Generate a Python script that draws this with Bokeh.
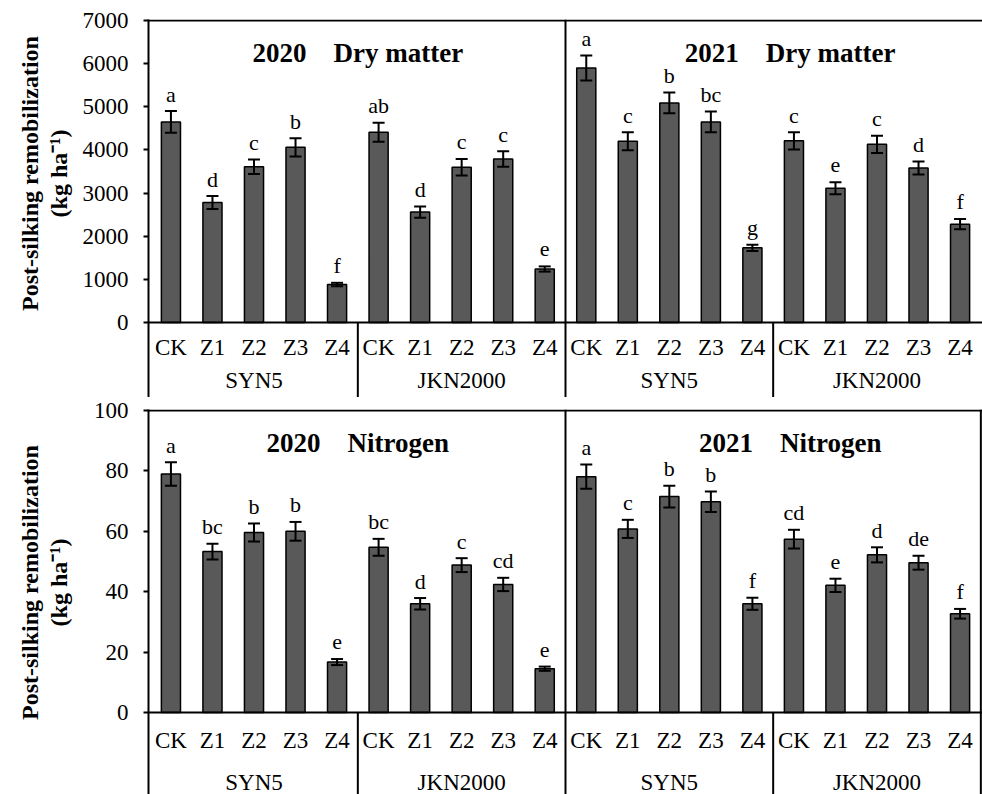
import math
from bokeh.plotting import figure
from bokeh.models import (ColumnDataSource, FactorRange, Range1d, Span, Whisker,
                          FixedTicker)
from bokeh.layouts import column, row
from bokeh.embed import file_html
from bokeh.resources import INLINE
from bokeh.core.properties import value

# ---------------- data ----------------
years = ["2020", "2021"]
cultivars = ["SYN5", "JKN2000"]
treatments = ["CK", "Z1", "Z2", "Z3", "Z4"]

# Dry matter (kg ha-1)
dm_2020_syn5 = [4650, 2780, 3610, 4060, 880]
dm_2020_syn5_err = [250, 150, 170, 210, 40]
dm_2020_syn5_sig = ["a", "d", "c", "b", "f"]
dm_2020_jkn = [4410, 2560, 3600, 3790, 1240]
dm_2020_jkn_err = [220, 130, 190, 180, 60]
dm_2020_jkn_sig = ["ab", "d", "c", "c", "e"]
dm_2021_syn5 = [5900, 4200, 5090, 4650, 1730]
dm_2021_syn5_err = [290, 210, 240, 240, 70]
dm_2021_syn5_sig = ["a", "c", "b", "bc", "g"]
dm_2021_jkn = [4210, 3110, 4130, 3580, 2280]
dm_2021_jkn_err = [200, 140, 200, 150, 120]
dm_2021_jkn_sig = ["c", "e", "c", "d", "f"]

# Nitrogen (kg ha-1)
n_2020_syn5 = [79.0, 53.3, 59.6, 60.0, 16.7]
n_2020_syn5_err = [3.9, 2.6, 3.0, 3.1, 1.0]
n_2020_syn5_sig = ["a", "bc", "b", "b", "e"]
n_2020_jkn = [54.7, 36.0, 48.8, 42.4, 14.5]
n_2020_jkn_err = [2.8, 1.9, 2.3, 2.2, 0.7]
n_2020_jkn_sig = ["bc", "d", "c", "cd", "e"]
n_2021_syn5 = [78.1, 60.8, 71.5, 69.8, 36.0]
n_2021_syn5_err = [4.0, 3.0, 3.6, 3.4, 2.0]
n_2021_syn5_sig = ["a", "c", "b", "b", "f"]
n_2021_jkn = [57.4, 42.1, 52.2, 49.6, 32.7]
n_2021_jkn_err = [3.1, 2.2, 2.5, 2.3, 1.6]
n_2021_jkn_sig = ["cd", "e", "d", "de", "f"]

dm_ticks = [0, 1000, 2000, 3000, 4000, 5000, 6000, 7000]
n_ticks = [0, 20, 40, 60, 80, 100]

GAP = "\u00a0\u00a0\u00a0\u00a0"
dm_titles = ["2020" + GAP + "Dry matter", "2021" + GAP + "Dry matter"]
n_titles = ["2020" + GAP + "Nitrogen", "2021" + GAP + "Nitrogen"]
y_label = "Post-silking remobilization\n(kg ha\u207b\u00b9)"

# ---------------- helpers ----------------
FONT = "Liberation Serif"
factors = [(y, c, t) for y in years for c in cultivars for t in treatments]
x_range = FactorRange(factors=factors, factor_padding=0, subgroup_padding=0,
                      group_padding=0, range_padding=0.04,
                      range_padding_units="absolute")

LABEL_W = 78
TOTAL_W = 982


def make_row(vals, errs, sigs, ticks, titles, height, top_border,
             y_end, y_start, title_y, ylabel_y, lab_off1, lab_off2, right_border):
    y_range = Range1d(y_start, y_end)
    p = figure(width=TOTAL_W - LABEL_W, height=height, x_range=x_range,
               y_range=y_range, x_axis_location=None,
               output_backend="svg", toolbar_location=None,
               min_border_left=148 - LABEL_W, min_border_right=0,
               min_border_top=top_border, min_border_bottom=0)
    p.outline_line_color = None
    p.grid.grid_line_color = None

    top, up, lo, sig = [], [], [], []
    for v, e, s in zip(vals, errs, sigs):
        top += v
        up += [a + b for a, b in zip(v, e)]
        lo += [a - b for a, b in zip(v, e)]
        sig += s
    src = ColumnDataSource(dict(x=factors, top=top, upper=up, lower=lo,
                                sig=sig, treat=[f[2] for f in factors]))

    p.vbar(x="x", top="top", width=0.46, source=src, fill_color="#595959",
           line_color="black", line_width=1.5)
    wk = Whisker(base="x", upper="upper", lower="lower", source=src,
                 line_color="black", line_width=2, level="annotation")
    wk.upper_head.size = 12
    wk.lower_head.size = 12
    wk.upper_head.line_width = 2
    wk.lower_head.line_width = 2
    wk.upper_head.line_color = "black"
    wk.lower_head.line_color = "black"
    p.add_layout(wk)

    p.text(x="x", y="upper", text="sig", source=src, text_align="center",
           text_baseline="alphabetic", y_offset=-17,
           text_font=value(FONT), text_font_size="22px", text_color="black")
    # treatment labels
    p.text(x="x", y=0, text="treat", source=src, text_align="center",
           text_baseline="middle", y_offset=lab_off1,
           text_font=value(FONT), text_font_size="23px", text_color="black")
    # cultivar labels
    csrc = ColumnDataSource(dict(x=[(y, c) for y in years for c in cultivars],
                                 lab=[c for y in years for c in cultivars]))
    p.text(x="x", y=0, text="lab", source=csrc, text_align="center",
           text_baseline="middle", y_offset=lab_off2,
           text_font=value(FONT), text_font_size="23px", text_color="black")
    # panel titles
    tsrc = ColumnDataSource(dict(x=years, t=titles, xo=[0, 17]))
    p.text(x="x", y=title_y, text="t", source=tsrc, x_offset="xo",
           text_align="center", text_baseline="middle",
           text_font=value(FONT), text_font_style="bold",
           text_font_size="27px", text_color="black")

    # frame lines
    n_per_year = len(cultivars) * len(treatments)
    p.add_layout(Span(location=0, dimension="width", line_color="black", line_width=2))
    p.add_layout(Span(location=ticks[-1], dimension="width", line_color="black", line_width=2))
    p.add_layout(Span(location=n_per_year, dimension="height", line_color="black", line_width=2))
    if right_border:
        p.add_layout(Span(location=len(factors), dimension="height",
                          line_color="black", line_width=2))
    sep_x = [k * len(treatments) for k in range(1, len(years) * len(cultivars))
             if k % len(cultivars) != 0]
    p.segment(x0=sep_x, x1=sep_x, y0=[0] * len(sep_x), y1=[y_start] * len(sep_x),
              line_color="black", line_width=2)

    ax = p.yaxis[0]
    ax.ticker = FixedTicker(ticks=ticks)
    ax.axis_line_color = "black"
    ax.axis_line_width = 2
    ax.major_tick_line_color = "black"
    ax.major_tick_line_width = 2
    ax.major_tick_in = 0
    ax.major_tick_out = 5
    ax.minor_tick_line_color = None
    ax.major_label_standoff = 15
    ax.major_label_text_font = FONT
    ax.major_label_text_font_size = "23px"
    ax.major_label_text_color = "black"

    # y-axis title, drawn in a narrow companion plot sharing the y range
    q = figure(width=LABEL_W, height=height, x_range=Range1d(0, LABEL_W),
               y_range=y_range, x_axis_location=None, y_axis_location=None,
               output_backend="svg", toolbar_location=None,
               min_border_left=0, min_border_right=0,
               min_border_top=top_border, min_border_bottom=0)
    q.outline_line_color = None
    q.grid.grid_line_color = None
    q.text(x=[44], y=[ylabel_y], text=[y_label], angle=math.pi / 2,
           text_align="center", text_baseline="middle",
           text_font=value(FONT), text_font_style="bold",
           text_font_size="24px", text_line_height=1.15, text_color="black")
    return row(q, p, spacing=0)


ppu1 = 302 / 7000.0
r1 = make_row([dm_2020_syn5, dm_2020_jkn, dm_2021_syn5, dm_2021_jkn],
              [dm_2020_syn5_err, dm_2020_jkn_err, dm_2021_syn5_err, dm_2021_jkn_err],
              [dm_2020_syn5_sig, dm_2020_jkn_sig, dm_2021_syn5_sig, dm_2021_jkn_sig],
              dm_ticks, dm_titles, height=397, top_border=19,
              y_end=7000 + 1 / ppu1, y_start=-(397 - 322) / ppu1,
              title_y=7000 - 32 / ppu1, ylabel_y=7000 - 153 / ppu1,
              lab_off1=25, lab_off2=58, right_border=False)

ppu2 = 3.02
r2 = make_row([n_2020_syn5, n_2020_jkn, n_2021_syn5, n_2021_jkn],
              [n_2020_syn5_err, n_2020_jkn_err, n_2021_syn5_err, n_2021_jkn_err],
              [n_2020_syn5_sig, n_2020_jkn_sig, n_2021_syn5_sig, n_2021_jkn_sig],
              n_ticks, n_titles, height=397, top_border=12,
              y_end=100 + 1 / ppu2, y_start=-(397 - 315) / ppu2,
              title_y=100 - 32 / ppu2, ylabel_y=100 - 172 / ppu2,
              lab_off1=28, lab_off2=70, right_border=True)

layout = column(r1, r2, spacing=0)
open("out.html", "w").write(file_html(layout, INLINE))
